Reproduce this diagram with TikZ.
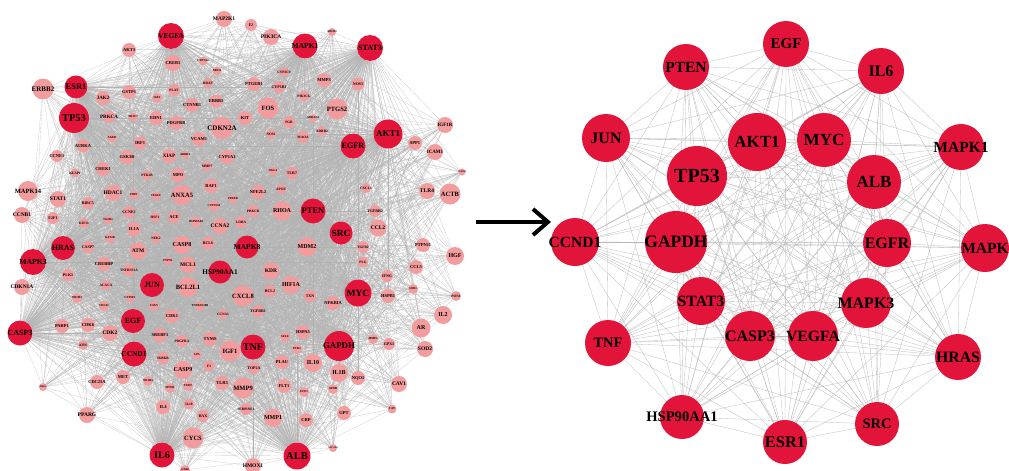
\documentclass[tikz,border=0pt]{standalone}
\usepackage{fontspec}
\setmainfont{Liberation Serif}
\usetikzlibrary{arrows.meta}
\definecolor{hubred}{HTML}{E3143A}
\definecolor{genepink}{HTML}{F29C9E}
\pgfdeclarelayer{background}
\pgfsetlayers{background,main}

\begin{document}
\begin{tikzpicture}[x=1pt, y=-1pt]
  \tikzset{
    hub/.style={circle, fill=hubred, draw=none, inner sep=0pt, text=black},
    gene/.style={circle, fill=genepink, draw=none, inner sep=0pt, text=black},
    ledge/.style={black!30, line width=0.12pt},
    redge/.style={black!27, line width=0.3pt},
    bigarrow/.style={-{Straight Barb[length=15pt, width=26pt]}, line width=4pt}
  }
  \useasboundingbox (0,0) rectangle (1009,471);

  % left network: hub genes
  \def\lhubs{VEGFA,ESR1,TP53,MAPK1,STAT3,AKT1,EGFR,PTEN,SRC,MAPK8,HRAS,MAPK3,
             HSP90AA1,JUN,MYC,EGF,CCND1,CASP3,TNF,GAPDH,ALB,IL6}
  \foreach \n/\x/\y/\d/\f in {VEGFA/171/36/26/7.5, ESR1/76/87/23/8.5, TP53/74/118/30/10.5,
      MAPK1/305/46/25/7.5, STAT3/370/48/26/8, AKT1/388/134/29/9, EGFR/353/146/25/8.2,
      PTEN/313/211/25/8.5, SRC/341/233/23/9.5, MAPK8/247/247/23/7.5, HRAS/63/248/24/8,
      MAPK3/33/262/26/7.7, HSP90AA1/220/272/23/7.2, JUN/152/285/24/8, MYC/358/293/27/9.5,
      EGF/133/321/24/8, CCND1/134/354/25/7.4, CASP3/20/333/25/8, TNF/253/347/25/10,
      GAPDH/339/346/30/8.8, ALB/297/456/27/10.5, IL6/162/455/25/10}
    \node[hub, minimum size=\d pt, font=\bfseries\fontsize{\f}{\f}\selectfont]
      (l\n) at (\x,\y) {\makebox[0pt]{\n}};

  % hub to hub links
  \begin{pgfonlayer}{background}
    \foreach \a [count=\i] in \lhubs {
      \foreach \b [count=\j] in \lhubs {
        \ifnum\j>\i \draw[ledge] (l\a) -- (l\b); \fi
      }
    }
  \end{pgfonlayer}

  % left network: other genes, each linked to the hubs
  \foreach \n/\x/\y/\d/\f in {MAP2K1/224/19/16/5.5, F2/251/25/12/4, PIK3CA/271/37/16/5.5,
      ABCB1/332/32/8/3, AKT3/129/50/14/4.5, CREB1/173/63/16/4.5, CYP3A4/203/61/9/3,
      NR1I2/217/71/9/3, ERBB2/43/89/21/7, JAK2/103/98/14/5, GSTP1/129/92/14/4.5,
      IGF2/157/98/10/3, PLAT/174/90/12/3.5, BRAF/208/83/10/3.5, CTNNB1/192/105/14/4.5,
      ERBB3/216/101/13/4.5, PRKCA/109/117/12/5, NR3C1/133/117/9/3, EDN1/156/118/14/4.5,
      PDGFRB/176/123/14/4.5, CDKN2A/222/128/22/7, AURKA/83/146/13/4.5, AGER/112/138/9/3,
      IRF1/140/143/13/4.5, VCAM1/199/139/14/4.5, CCNE1/57/156/12/4.5, GSK3B/127/157/14/4.5,
      XIAP/169/156/14/5, ADRB1/185/155/8/3, CYP1A1/227/157/14/4.5, CYP2C9/284/72/10/3.5,
      PTGER1/254/84/14/4.5, CYP1B1/279/87/12/4, MMP3/324/80/14/4.5, NOS3/358/84/13/4,
      PIK3CG/304/96/11/3.5, FOS/268/108/21/6.5, PTGS2/337/109/21/6.5, KIT/245/118/14/4.5,
      PGR/289/122/12/3.5, ADRA2A/313/118/8/3, ADRB2/322/131/10/3.5, NOS2/271/134/10/3.5,
      MAOA/303/137/12/3.5, IGF1R/445/125/16/5, SPP1/415/143/14/4.5, ICAM1/435/152/16/5,
      KEAP1/75/173/9/3.5, CHEK1/103/169/14/4.5, PTK2B/147/175/10/3.5, MPO/178/175/14/4.5,
      MMP7/207/166/10/3.5, RAF1/211/186/14/4.5, MAPK14/28/191/20/6.5, STAT1/58/199/16/5.5,
      HDAC1/113/193/16/5.5, FBP1/134/195/9/3, VEGFC/156/196/9/3, ANXA5/182/195/20/6.5,
      BIRC5/88/203/12/4, CCNB1/22/215/16/5.5, E2F1/53/218/12/4, KIF11/84/223/10/3.5,
      CCNE2/129/212/12/4, HSF1/155/217/10/3.5, ACE/174/217/12/4.5, HSP90AB1/196/222/11/3,
      CYP19A1/214/206/11/3, CCNA2/220/226/16/5.5, PPARD/233/199/9/3, LDHA/241/222/12/3.5,
      NFE2L2/258/192/14/4.5, PRKCB/253/211/12/3.5, TGFB1/108/220/9/3, KAT2B/110/238/10/3,
      IL1A/134/229/14/4.5, NEK2/156/238/10/3.5, BCL6/208/243/13/4, CASP7/88/247/12/4,
      ATM/138/251/17/5.5, CASP8/182/245/18/6, CREBBP/104/264/14/4.5, PTPN1/168/261/9/3,
      MCL1/188/265/16/5.5, PLK1/68/275/12/4, CDKN1A/22/287/16/5.5, TNFRSF1A/129/270/12/3.5,
      ACACA/106/285/10/3.5, BCL2L1/188/287/20/6.5, NR1H3/77/298/10/3, CYP2E1/130/298/9/3,
      CDC42/104/306/10/3, FASN/154/306/10/3, TNFRSF10B/200/306/10/3, CDK1/172/316/14/4.5,
      CCNA1/223/314/10/3.5, TLR7/292/173/12/4, OGG1/273/171/9/3, APOE/281/189/10/3.5,
      CXCL1/366/188/10/3.5, RHOA/282/211/19/6, MDM2/307/247/19/6, CCL2/378/228/17/5.5,
      TGFBR2/375/211/12/4, ACTB/450/194/21/6.5, TLR4/427/191/16/5.5, PTPN11/423/245/14/4.5,
      HGF/455/256/18/6, CCL5/416/267/14/4.5, IL2/443/315/18/6, KDR/271/271/17/5.5,
      HIF1A/291/285/18/6, TGFB2/363/247/12/3.5, PLG/363/262/11/3.5, IFNG/387/276/12/4,
      HSPB1/388/296/14/4.5, NFKBIA/333/303/14/4.5, TXN/310/296/12/4, BCL2/270/291/12/4,
      CXCL8/243/296/21/6.5, TGFBR1/258/311/12/4, PON1/456/296/10/3.5, SOD1/413/289/10/3,
      CLDN1/462/172/7/2.5, PARP1/62/326/14/4.5, CDK6/88/325/14/4.5, CDK2/110/333/16/5.5,
      SREBF1/160/335/14/4.5, PDGFRA/182/341/12/3.5, TYMS/210/339/14/4.5, IGF1/230/351/21/6.5,
      ATF6/83/345/10/3.5, IKBKB/163/358/12/3.5, LPA/197/355/9/3, CASP9/183/370/18/6,
      F3/209/366/11/3.5, TLR3/222/383/14/4.5, CDC25A/97/382/14/4.5, MET/123/377/14/4.5,
      NR1H4/148/381/10/3, MTOR/170/388/10/3, TERT/188/386/10/3, AHSG/43/387/8/2.5,
      IL4/163/407/14/4.5, IL18/189/404/11/3.5, BAX/203/416/12/4, PPARG/87/415/16/5.5,
      CYCS/193/438/21/6.5, CD40/185/470/10/3, HSPA5/303/332/14/4.5, SELE/285/337/10/3,
      PCK1/297/349/10/3, IL10/313/363/18/6, IL1B/339/373/18/6, NQO1/358/378/14/4.5,
      TOP2A/254/368/12/4, PLAU/282/362/14/4.5, FLT1/284/386/14/4.5, MMP9/243/388/21/6.5,
      ECE1/304/392/10/3, APOB/333/389/10/3, CAV1/399/384/16/5.5, AR/421/328/19/6,
      SOD2/425/349/16/5.5, GPX1/389/344/12/4, MMP2/373/339/10/3, CAT/392/409/9/3,
      SERPINE1/246/409/12/3.5, MMP1/273/418/18/6, CRP/306/420/14/4.5, GPT/344/413/14/4.5,
      SLC2A4/333/448/8/2.5, HMOX1/253/466/16/5.5}
  {
    \node[gene, minimum size=\d pt, font=\bfseries\fontsize{\f}{\f}\selectfont]
      (l\n) at (\x,\y) {\makebox[0pt]{\n}};
    \begin{pgfonlayer}{background}
      \foreach \h in \lhubs {\draw[ledge] (l\n) -- (l\h);}
    \end{pgfonlayer}
  }

  % arrow between the two networks
  \coordinate (arrtail) at (476,222);
  \coordinate (arrtip) at (551,222);
  \draw[bigarrow] (arrtail) -- (arrtip);

  % right network: the hub genes
  \def\rhubs{EGF,PTEN,IL6,JUN,AKT1,MYC,MAPK1,TP53,ALB,CCND1,GAPDH,EGFR,MAPK8,
             STAT3,MAPK3,TNF,CASP3,VEGFA,HRAS,HSP90AA1,ESR1,SRC}
  \foreach \n/\x/\y/\d/\f in {EGF/786/44/46/15, PTEN/686/67/46/15.5, IL6/881/71/46/16,
      JUN/606/138/48/16, AKT1/757/142/58/17, MYC/824/140/54/17, MAPK1/961/147/46/15.5,
      TP53/697/176/60/20, ALB/874/182/54/17, CCND1/575/242/48/15.5, GAPDH/676/242/62/17.5,
      EGFR/887/243/48/16, STAT3/701/301/48/15.7, MAPK3/866/303/50/16, TNF/608/343/46/14.5,
      CASP3/750/336/50/16, VEGFA/813/336/50/15.7, HRAS/958/357/46/15.8,
      HSP90AA1/682/417/44/14.6, ESR1/785/442/44/16.4, SRC/877/424/44/14.5}
    \node[hub, minimum size=\d pt, font=\bfseries\fontsize{\f}{\f}\selectfont]
      (r\n) at (\x,\y) {\makebox[0pt]{\n}};
  \node[hub, minimum size=48pt, font=\bfseries\fontsize{15.5}{15.5}\selectfont]
    (rMAPK8) at (985,248) {\makebox[0pt]{MAPK}};

  \begin{pgfonlayer}{background}
    \foreach \a [count=\i] in \rhubs {
      \foreach \b [count=\j] in \rhubs {
        \ifnum\j>\i \draw[redge] (r\a) -- (r\b); \fi
      }
    }
  \end{pgfonlayer}
\end{tikzpicture}
\end{document}
